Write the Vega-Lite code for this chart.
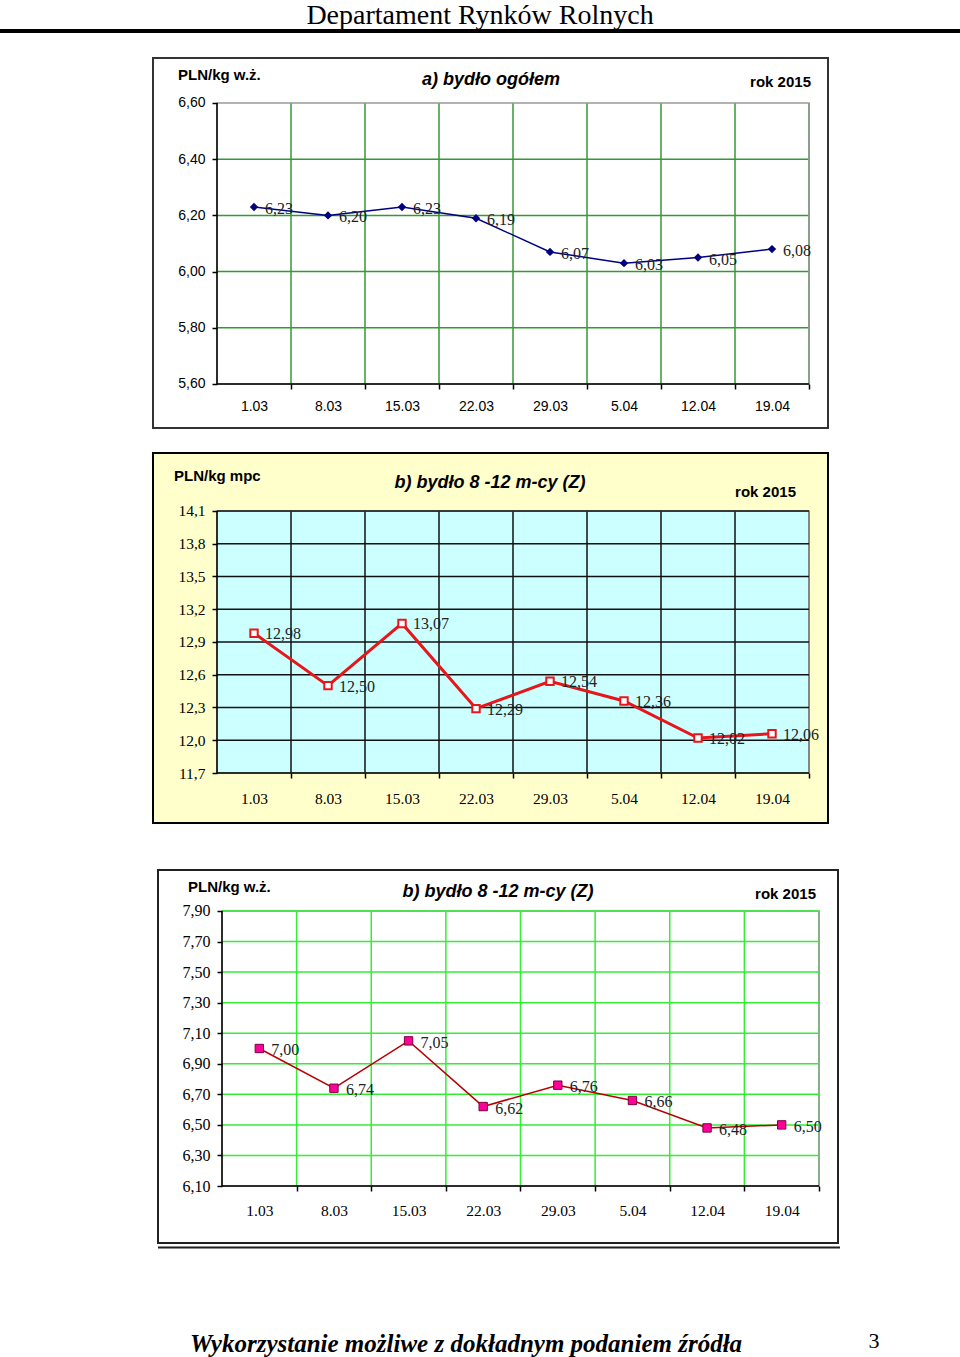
{
  "$schema": "https://vega.github.io/schema/vega-lite/v6.json",
  "padding": {"top": 2, "left": 0, "right": 0, "bottom": 0},
  "background": "white",
  "config": {
    "view": {"stroke": null},
    "locale": {"number": {"decimal": ",", "thousands": " ", "grouping": [3], "currency": ["", " zł"]}}
  },
  "title": {"text": "Departament Rynków Rolnych", "font": "Liberation Serif", "fontSize": 28, "fontWeight": "normal", "color": "black", "anchor": "middle", "frame": "group", "baseline": "top", "offset": -2},
  "datasets": {
    "a_bydlo_ogolem": [
      {"dzien": "2015-03-01", "cena": 6.23},
      {"dzien": "2015-03-08", "cena": 6.20},
      {"dzien": "2015-03-15", "cena": 6.23},
      {"dzien": "2015-03-22", "cena": 6.19},
      {"dzien": "2015-03-29", "cena": 6.07},
      {"dzien": "2015-04-05", "cena": 6.03},
      {"dzien": "2015-04-12", "cena": 6.05},
      {"dzien": "2015-04-19", "cena": 6.08}
    ],
    "b_mpc": [
      {"dzien": "2015-03-01", "cena": 12.98},
      {"dzien": "2015-03-08", "cena": 12.50},
      {"dzien": "2015-03-15", "cena": 13.07},
      {"dzien": "2015-03-22", "cena": 12.29},
      {"dzien": "2015-03-29", "cena": 12.54},
      {"dzien": "2015-04-05", "cena": 12.36},
      {"dzien": "2015-04-12", "cena": 12.02},
      {"dzien": "2015-04-19", "cena": 12.06}
    ],
    "b_wz": [
      {"dzien": "2015-03-01", "cena": 7.00},
      {"dzien": "2015-03-08", "cena": 6.74},
      {"dzien": "2015-03-15", "cena": 7.05},
      {"dzien": "2015-03-22", "cena": 6.62},
      {"dzien": "2015-03-29", "cena": 6.76},
      {"dzien": "2015-04-05", "cena": 6.66},
      {"dzien": "2015-04-12", "cena": 6.48},
      {"dzien": "2015-04-19", "cena": 6.50}
    ]
  },
  "vconcat": [
    {
      "width": 960, "height": 4,
      "view": {"fill": "black", "stroke": null},
      "data": {"values": [{}]},
      "mark": {"type": "point", "opacity": 0},
      "encoding": {}
    },
    {
      "width": 960, "height": 406,
      "data": {"name": "a_bydlo_ogolem"},
      "layer": [
        {"data": {"values": [{}]}, "mark": {"type": "rect", "fill": "white", "stroke": "#333333", "strokeWidth": 2},
         "encoding": {"x": {"datum": 1424342529730, "type": "temporal", "title": null}, "x2": {"datum": 1429859286486}, "y": {"datum": 5.44341, "title": null}, "y2": {"datum": 6.76014}}},
        {"data": {"values": [{}]}, "mark": {"type": "rect", "fill": "white"},
         "encoding": {"x": {"datum": 1424865600000, "type": "temporal", "title": null}, "x2": {"datum": 1429704000000}, "y": {"datum": 5.6, "title": null}, "y2": {"datum": 6.6}}},
        {"mark": {"type": "rule", "color": "#339933", "strokeWidth": 1.5, "xOffset": 37},
         "encoding": {"x": {"field": "dzien", "type": "temporal", "title": null}, "y": {"datum": 5.6, "title": null}, "y2": {"datum": 6.6}}},
        {"data": {"values": [{"v": 5.8}, {"v": 6.0}, {"v": 6.2}, {"v": 6.4}]}, "mark": {"type": "rule", "color": "#339933", "strokeWidth": 1.5},
         "encoding": {"y": {"field": "v", "type": "quantitative", "title": null}, "x": {"datum": 1424865600000, "type": "temporal", "title": null}, "x2": {"datum": 1429704000000}}},
        {"data": {"values": [{}]}, "mark": {"type": "rect", "fill": "white", "fillOpacity": 0, "stroke": "#999999", "strokeWidth": 1.5},
         "encoding": {"x": {"datum": 1424865600000, "type": "temporal", "title": null}, "x2": {"datum": 1429704000000}, "y": {"datum": 5.6, "title": null}, "y2": {"datum": 6.6}}},
        {"data": {"values": [{}]}, "mark": {"type": "rule", "color": "black", "strokeWidth": 1.5},
         "encoding": {"x": {"datum": 1424865600000, "type": "temporal", "title": null}, "y": {"datum": 5.6, "title": null}, "y2": {"datum": 6.6}}},
        {"data": {"values": [{}]}, "mark": {"type": "rule", "color": "black", "strokeWidth": 1.5},
         "encoding": {"x": {"datum": 1424865600000, "type": "temporal", "title": null}, "x2": {"datum": 1429704000000}, "y": {"datum": 5.6, "title": null}}},
        {"mark": {"type": "line", "color": "#000080", "strokeWidth": 1.5},
         "encoding": {
           "x": {"field": "dzien", "type": "temporal", "title": null,
                 "scale": {"type": "utc", "domain": [1423092064865, 1430938118919], "nice": false},
                 "axis": {"orient": "bottom", "offset": -56, "zindex": 1, "values": [1425168000000, 1425772800000, 1426377600000, 1426982400000, 1427587200000, 1428192000000, 1428796800000, 1429401600000],
                          "labelExpr": "utcFormat(datum.value, '%-d.%m')", "domain": false, "grid": false, "tickOffset": 37, "labelOffset": -37, "tickSize": 5, "tickColor": "black", "tickWidth": 1.5,
                          "labelFont": "Liberation Sans", "labelFontSize": 14, "labelColor": "black", "labelPadding": 10, "labelFlush": false, "labelOverlap": false, "title": null}},
           "y": {"field": "cena", "type": "quantitative", "title": null,
                 "scale": {"domain": [5.40071, 6.84555], "nice": false, "zero": false},
                 "axis": {"orient": "left", "offset": -217, "zindex": 1, "values": [5.6, 5.8, 6.0, 6.2, 6.4, 6.6], "format": ".2f", "domain": false, "grid": false, "tickSize": 5, "tickColor": "black", "tickWidth": 1.5,
                          "labelFont": "Liberation Sans", "labelFontSize": 14, "labelColor": "black", "labelPadding": 7, "labelFlush": false, "labelOverlap": false, "title": null}}
         }},
        {"mark": {"type": "point", "shape": "diamond", "filled": true, "color": "#000080", "size": 70, "opacity": 1},
         "encoding": {"x": {"field": "dzien", "type": "temporal", "title": null}, "y": {"field": "cena", "type": "quantitative", "title": null}}},
        {"mark": {"type": "text", "align": "left", "baseline": "middle", "dx": 11, "dy": 2, "font": "Liberation Serif", "fontSize": 16, "color": "#222222"},
         "encoding": {"x": {"field": "dzien", "type": "temporal", "title": null}, "y": {"field": "cena", "type": "quantitative", "title": null}, "text": {"field": "cena", "type": "quantitative", "format": ".2f"}}},
        {"data": {"values": [{}]}, "mark": {"type": "text", "text": "PLN/kg w.ż.", "align": "left", "baseline": "middle", "font": "Liberation Sans", "fontWeight": "bold", "fontSize": 15, "color": "black"},
         "encoding": {"x": {"datum": 1424546854054, "type": "temporal", "title": null}, "y": {"datum": 6.69964, "title": null}}},
        {"data": {"values": [{}]}, "mark": {"type": "text", "text": "a) bydło ogółem", "align": "center", "baseline": "middle", "font": "Liberation Sans", "fontWeight": "bold", "fontStyle": "italic", "fontSize": 18, "color": "black"},
         "encoding": {"x": {"datum": 1427104994595, "type": "temporal", "title": null}, "y": {"datum": 6.68185, "title": null}}},
        {"data": {"values": [{}]}, "mark": {"type": "text", "text": "rok 2015", "align": "right", "baseline": "middle", "font": "Liberation Sans", "fontWeight": "bold", "fontSize": 15, "color": "black"},
         "encoding": {"x": {"datum": 1429720345946, "type": "temporal", "title": null}, "y": {"datum": 6.67473, "title": null}}}
      ]
    },
    {
      "width": 960, "height": 400,
      "data": {"name": "b_mpc"},
      "layer": [
        {"data": {"values": [{}]}, "mark": {"type": "rect", "fill": "#FFFFCC", "stroke": "black", "strokeWidth": 2},
         "encoding": {"x": {"datum": 1424342529730, "type": "temporal", "title": null}, "x2": {"datum": 1429859286486}, "y": {"datum": 11.24198, "title": null}, "y2": {"datum": 14.6313}}},
        {"data": {"values": [{}]}, "mark": {"type": "rect", "fill": "#CCFFFF"},
         "encoding": {"x": {"datum": 1424865600000, "type": "temporal", "title": null}, "x2": {"datum": 1429704000000}, "y": {"datum": 11.7, "title": null}, "y2": {"datum": 14.1}}},
        {"mark": {"type": "rule", "color": "#111111", "strokeWidth": 1.5, "xOffset": 37},
         "encoding": {"x": {"field": "dzien", "type": "temporal", "title": null}, "y": {"datum": 11.7, "title": null}, "y2": {"datum": 14.1}}},
        {"data": {"values": [{}]}, "mark": {"type": "rect", "fill": "white", "fillOpacity": 0, "stroke": "#999999", "strokeWidth": 1.5},
         "encoding": {"x": {"datum": 1424865600000, "type": "temporal", "title": null}, "x2": {"datum": 1429704000000}, "y": {"datum": 11.7, "title": null}, "y2": {"datum": 14.1}}},
        {"data": {"values": [{"v": 12.0}, {"v": 12.3}, {"v": 12.6}, {"v": 12.9}, {"v": 13.2}, {"v": 13.5}, {"v": 13.8}, {"v": 14.1}]}, "mark": {"type": "rule", "color": "#111111", "strokeWidth": 1.5},
         "encoding": {"y": {"field": "v", "type": "quantitative", "title": null}, "x": {"datum": 1424865600000, "type": "temporal", "title": null}, "x2": {"datum": 1429704000000}}},
        {"data": {"values": [{}]}, "mark": {"type": "rule", "color": "black", "strokeWidth": 1.5},
         "encoding": {"x": {"datum": 1424865600000, "type": "temporal", "title": null}, "y": {"datum": 11.7, "title": null}, "y2": {"datum": 14.1}}},
        {"data": {"values": [{}]}, "mark": {"type": "rule", "color": "black", "strokeWidth": 1.5},
         "encoding": {"x": {"datum": 1424865600000, "type": "temporal", "title": null}, "x2": {"datum": 1429704000000}, "y": {"datum": 11.7, "title": null}}},
        {"mark": {"type": "line", "color": "#E8161B", "strokeWidth": 3},
         "encoding": {
           "x": {"field": "dzien", "type": "temporal", "title": null,
                 "scale": {"type": "utc", "domain": [1423092064865, 1430938118919], "nice": false},
                 "axis": {"orient": "bottom", "offset": -67, "zindex": 1, "values": [1425168000000, 1425772800000, 1426377600000, 1426982400000, 1427587200000, 1428192000000, 1428796800000, 1429401600000],
                          "labelExpr": "utcFormat(datum.value, '%-d.%m')", "domain": false, "grid": false, "tickOffset": 37, "labelOffset": -37, "tickSize": 5, "tickColor": "black", "tickWidth": 1.5,
                          "labelFont": "Liberation Serif", "labelFontSize": 15.5, "labelColor": "black", "labelPadding": 13, "labelFlush": false, "labelOverlap": false, "title": null}},
           "y": {"field": "cena", "type": "quantitative", "title": null,
                 "scale": {"domain": [11.08626, 14.75038], "nice": false, "zero": false},
                 "axis": {"orient": "left", "offset": -217, "zindex": 1, "values": [11.7, 12.0, 12.3, 12.6, 12.9, 13.2, 13.5, 13.8, 14.1], "format": ".1f", "domain": false, "grid": false, "tickSize": 5, "tickColor": "black", "tickWidth": 1.5,
                          "labelFont": "Liberation Serif", "labelFontSize": 15.5, "labelColor": "black", "labelPadding": 7, "labelFlush": false, "labelOverlap": false, "title": null}}
         }},
        {"mark": {"type": "point", "shape": "square", "filled": true, "fill": "white", "stroke": "#E8161B", "strokeWidth": 2, "size": 55, "opacity": 1},
         "encoding": {"x": {"field": "dzien", "type": "temporal", "title": null}, "y": {"field": "cena", "type": "quantitative", "title": null}}},
        {"mark": {"type": "text", "align": "left", "baseline": "middle", "dx": 11, "dy": 1, "font": "Liberation Serif", "fontSize": 16, "color": "#222222"},
         "encoding": {"x": {"field": "dzien", "type": "temporal", "title": null}, "y": {"field": "cena", "type": "quantitative", "title": null}, "text": {"field": "cena", "type": "quantitative", "format": ".2f"}}},
        {"data": {"values": [{}]}, "mark": {"type": "text", "text": "PLN/kg mpc", "align": "left", "baseline": "middle", "font": "Liberation Sans", "fontWeight": "bold", "fontSize": 15, "color": "black"},
         "encoding": {"x": {"datum": 1424514162162, "type": "temporal", "title": null}, "y": {"datum": 14.42061, "title": null}}},
        {"data": {"values": [{}]}, "mark": {"type": "text", "text": "b) bydło 8 -12 m-cy (Z)", "align": "center", "baseline": "middle", "font": "Liberation Sans", "fontWeight": "bold", "fontStyle": "italic", "fontSize": 18, "color": "black"},
         "encoding": {"x": {"datum": 1427096821622, "type": "temporal", "title": null}, "y": {"datum": 14.35649, "title": null}}},
        {"data": {"values": [{}]}, "mark": {"type": "text", "text": "rok 2015", "align": "right", "baseline": "middle", "font": "Liberation Sans", "fontWeight": "bold", "fontSize": 15, "color": "black"},
         "encoding": {"x": {"datum": 1429597751351, "type": "temporal", "title": null}, "y": {"datum": 14.27405, "title": null}}}
      ]
    },
    {
      "width": 960, "height": 450,
      "data": {"name": "b_wz"},
      "layer": [
        {"data": {"values": [{}]}, "mark": {"type": "rule", "color": "#222222", "strokeWidth": 2},
         "encoding": {"x": {"datum": 1424346910553, "type": "temporal", "title": null}, "x2": {"datum": 1429874194974}, "y": {"datum": 5.69746, "title": null}}},
        {"data": {"values": [{}]}, "mark": {"type": "rect", "fill": "white", "stroke": "#222222", "strokeWidth": 2},
         "encoding": {"x": {"datum": 1424346910553, "type": "temporal", "title": null}, "x2": {"datum": 1429857985929}, "y": {"datum": 5.72691, "title": null}, "y2": {"datum": 8.16836}}},
        {"mark": {"type": "rule", "color": "#33EE33", "strokeWidth": 1.5, "xOffset": 37.3},
         "encoding": {"x": {"field": "dzien", "type": "temporal", "title": null}, "y": {"datum": 6.1, "title": null}, "y2": {"datum": 7.9}}},
        {"data": {"values": [{}]}, "mark": {"type": "rect", "fill": "white", "fillOpacity": 0, "stroke": "#999999", "strokeWidth": 1.5},
         "encoding": {"x": {"datum": 1424865600000, "type": "temporal", "title": null}, "x2": {"datum": 1429704000000}, "y": {"datum": 6.1, "title": null}, "y2": {"datum": 7.9}}},
        {"data": {"values": [{"v": 6.3}, {"v": 6.5}, {"v": 6.7}, {"v": 6.9}, {"v": 7.1}, {"v": 7.3}, {"v": 7.5}, {"v": 7.7}, {"v": 7.9}]}, "mark": {"type": "rule", "color": "#33EE33", "strokeWidth": 1.5},
         "encoding": {"y": {"field": "v", "type": "quantitative", "title": null}, "x": {"datum": 1424865600000, "type": "temporal", "title": null}, "x2": {"datum": 1429704000000}}},
        {"data": {"values": [{}]}, "mark": {"type": "rule", "color": "black", "strokeWidth": 1.5},
         "encoding": {"x": {"datum": 1424865600000, "type": "temporal", "title": null}, "y": {"datum": 6.1, "title": null}, "y2": {"datum": 7.9}}},
        {"data": {"values": [{}]}, "mark": {"type": "rule", "color": "black", "strokeWidth": 1.5},
         "encoding": {"x": {"datum": 1424865600000, "type": "temporal", "title": null}, "x2": {"datum": 1429704000000}, "y": {"datum": 6.1, "title": null}}},
        {"mark": {"type": "line", "color": "#B80000", "strokeWidth": 1.5},
         "encoding": {
           "x": {"field": "dzien", "type": "temporal", "title": null,
                 "scale": {"type": "utc", "domain": [1423066395980, 1430846737688], "nice": false},
                 "axis": {"orient": "bottom", "offset": -104, "zindex": 1, "values": [1425168000000, 1425772800000, 1426377600000, 1426982400000, 1427587200000, 1428192000000, 1428796800000, 1429401600000],
                          "labelExpr": "utcFormat(datum.value, '%-d.%m')", "domain": false, "grid": false, "tickOffset": 37.3, "labelOffset": -37.3, "tickSize": 5, "tickColor": "black", "tickWidth": 1.5,
                          "labelFont": "Liberation Serif", "labelFontSize": 15.5, "labelColor": "black", "labelPadding": 12, "labelFlush": false, "labelOverlap": false, "title": null}},
           "y": {"field": "cena", "type": "quantitative", "title": null,
                 "scale": {"domain": [5.41928, 8.36472], "nice": false, "zero": false},
                 "axis": {"orient": "left", "offset": -222, "zindex": 1, "values": [6.1, 6.3, 6.5, 6.7, 6.9, 7.1, 7.3, 7.5, 7.7, 7.9], "format": ".2f", "domain": false, "grid": false, "tickSize": 5, "tickColor": "black", "tickWidth": 1.5,
                          "labelFont": "Liberation Serif", "labelFontSize": 16, "labelColor": "black", "labelPadding": 7, "labelFlush": false, "labelOverlap": false, "title": null}}
         }},
        {"mark": {"type": "point", "shape": "square", "filled": true, "fill": "#FF0099", "stroke": "#7A0040", "strokeWidth": 1, "size": 70, "opacity": 1},
         "encoding": {"x": {"field": "dzien", "type": "temporal", "title": null}, "y": {"field": "cena", "type": "quantitative", "title": null}}},
        {"mark": {"type": "text", "align": "left", "baseline": "middle", "dx": 12, "dy": 2, "font": "Liberation Serif", "fontSize": 16, "color": "#222222"},
         "encoding": {"x": {"field": "dzien", "type": "temporal", "title": null}, "y": {"field": "cena", "type": "quantitative", "title": null}, "text": {"field": "cena", "type": "quantitative", "format": ".2f"}}},
        {"data": {"values": [{}]}, "mark": {"type": "text", "text": "PLN/kg w.ż.", "align": "left", "baseline": "middle", "font": "Liberation Sans", "fontWeight": "bold", "fontSize": 15, "color": "black"},
         "encoding": {"x": {"datum": 1424590046231, "type": "temporal", "title": null}, "y": {"datum": 8.05709, "title": null}}},
        {"data": {"values": [{}]}, "mark": {"type": "text", "text": "b) bydło 8 -12 m-cy (Z)", "align": "center", "baseline": "middle", "font": "Liberation Sans", "fontWeight": "bold", "fontStyle": "italic", "fontSize": 18, "color": "black"},
         "encoding": {"x": {"datum": 1427102448241, "type": "temporal", "title": null}, "y": {"datum": 8.02436, "title": null}}},
        {"data": {"values": [{}]}, "mark": {"type": "text", "text": "rok 2015", "align": "right", "baseline": "middle", "font": "Liberation Sans", "fontWeight": "bold", "fontSize": 15, "color": "black"},
         "encoding": {"x": {"datum": 1429679686432, "type": "temporal", "title": null}, "y": {"datum": 8.01127, "title": null}}}
      ]
    },
    {
      "width": 960, "height": 67,
      "layer": [
        {"data": {"values": [{"t": "Wykorzystanie możliwe z dokładnym podaniem źródła"}]},
         "mark": {"type": "text", "align": "left", "baseline": "alphabetic", "dx": -290, "dy": 28, "font": "Liberation Serif", "fontStyle": "italic", "fontWeight": "bold", "fontSize": 25, "color": "black"},
         "encoding": {"text": {"field": "t"}}},
        {"data": {"values": [{"t": "3"}]},
         "mark": {"type": "text", "align": "center", "baseline": "alphabetic", "dx": 394, "dy": 24, "font": "Liberation Serif", "fontSize": 22, "color": "black"},
         "encoding": {"text": {"field": "t"}}}
      ]
    }
  ],
  "spacing": 0
}
